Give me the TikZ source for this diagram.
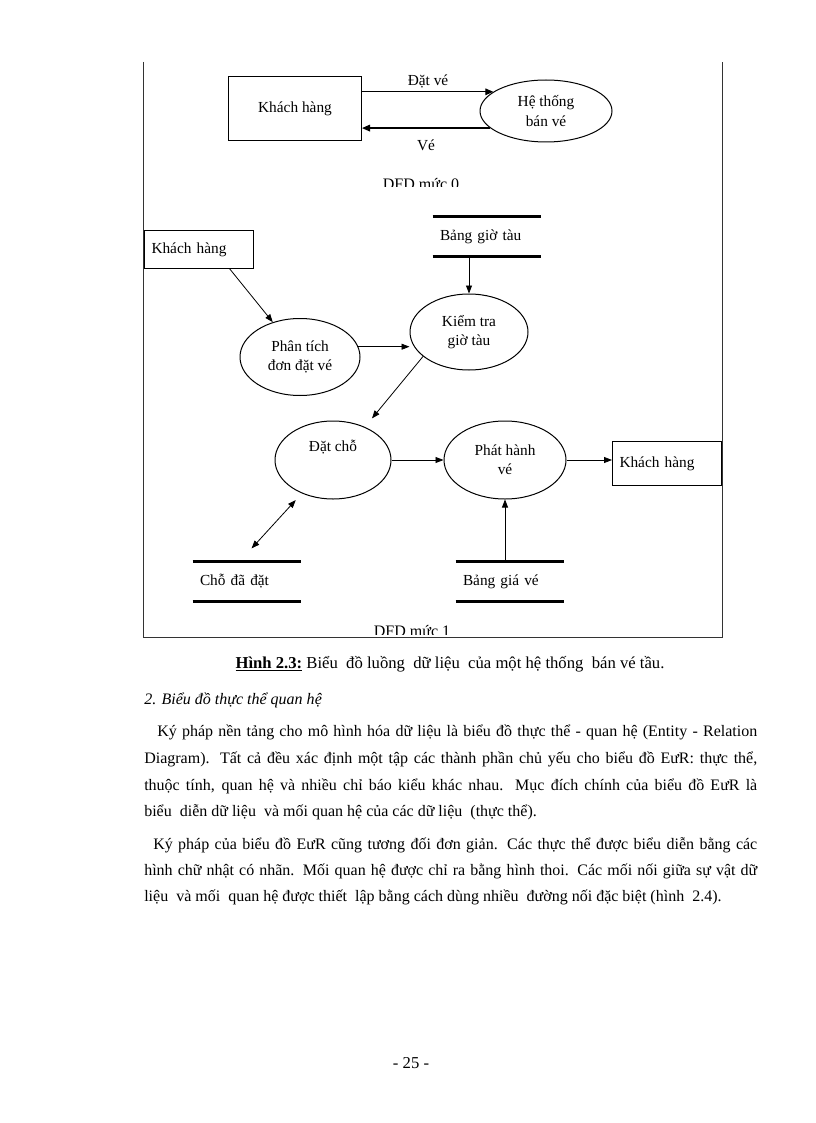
\documentclass[tikz,border=0pt]{standalone}
\usepackage{fontspec}
\setmainfont{Liberation Serif}
\usetikzlibrary{arrows.meta,shapes.geometric,calc}
\newdimen\pxu \pxu=0.75pt
\begin{document}
\begin{tikzpicture}[x=0.75pt,y=-0.75pt,
  dfont/.style={font=\fontsize{11.5}{14.5}\selectfont},
  ent/.style={draw, line width=0.75pt, inner ysep=0pt, dfont},
  proc/.style={draw, ellipse, inner sep=0pt, line width=0.75pt, align=center, dfont},
  lbl/.style={inner sep=0pt, align=center, dfont},
  store/.style={inner ysep=0pt, inner xsep=7\pxu, align=left, dfont},
  storeline/.style={line width=2.6pt},
  flow/.style={-{Triangle[length=6pt,width=4.5pt]}, line width=0.6pt},
  flowz/.style={-{Triangle[length=6pt,width=5pt]}, line width=0.9pt},
  bflow/.style={{Triangle[length=6pt,width=4.5pt]}-{Triangle[length=6pt,width=4.5pt]}, line width=0.6pt},
  body/.style={font=\fontsize{12}{15}\selectfont, anchor=base west, inner sep=0pt},
]
\useasboundingbox (0,0) rectangle (816,1123);
\fill[white] (0,0) rectangle (816,1123);

% frame
\coordinate (ftl) at (143,62);
\coordinate (ftr) at (722,62);
\coordinate (fbl) at (143,637);
\coordinate (fbr) at (722,637);
\draw[line width=0.75pt, black!80] (ftl) -- (fbl) -- (fbr) -- (ftr);

% ---------- DFD level 0 ----------
\node[ent, minimum width=133\pxu, minimum height=64\pxu] (kh0) at (295,109) {Khách hàng};
\node[proc, minimum width=132\pxu, minimum height=62\pxu] (ht) at (546,111) {Hệ thống\\bán vé};
\draw[flowz] (kh0.east |- ht.160) -- (ht.160);
\draw[flowz] (ht.197) -- (kh0.east |- ht.197);
\node[lbl] (ldv) at (428,81) {Đặt vé};
\node[lbl] (lve) at (426,145) {Vé};
\begin{scope}
  \clip (300,150) rectangle (560,187);
  \node[anchor=base, inner sep=0pt, font=\fontsize{12}{14}\selectfont] (dfd0) at (421,189.5) {DFD mức 0};
\end{scope}

% ---------- DFD level 1 ----------
\node[ent, anchor=north west, minimum width=109\pxu, minimum height=38\pxu,
      text width=95\pxu, inner xsep=7\pxu, align=left] (kh1) at (144,230) {Khách hàng};
\node[store, minimum width=108\pxu, minimum height=39\pxu, text width=94\pxu] (bgt) at (487,236.5) {Bảng giờ tàu};
\draw[storeline] (bgt.north west) -- (bgt.north east);
\draw[storeline] (bgt.south west) -- (bgt.south east);

\node[proc, minimum width=120\pxu, minimum height=77\pxu] (pt) at (300,357) {Phân tích\\đơn đặt vé};
\node[proc, minimum width=118\pxu, minimum height=76\pxu] (kt) at (469,332) {Kiểm tra\\giờ tàu};
\node[proc, minimum width=116\pxu, minimum height=78\pxu] (dc) at (333,460) {};
\node[lbl] (dct) at (333,447) {Đặt chỗ};
\node[proc, minimum width=122\pxu, minimum height=78\pxu] (ph) at (505,460) {Phát hành\\vé};
\node[ent, anchor=north west, minimum width=109\pxu, minimum height=44\pxu,
      text width=95\pxu, inner xsep=7\pxu, align=left] (kh2) at (612,441) {Khách hàng};

\node[store, minimum width=108\pxu, minimum height=39\pxu, text width=94\pxu] (cdd) at (247,581.5) {Chỗ đã đặt};
\draw[storeline] (cdd.north west) -- (cdd.north east);
\draw[storeline] (cdd.south west) -- (cdd.south east);
\node[store, minimum width=108\pxu, minimum height=39\pxu, text width=94\pxu] (bgv) at (510,581.5) {Bảng giá vé};
\draw[storeline] (bgv.north west) -- (bgv.north east);
\draw[storeline] (bgv.south west) -- (bgv.south east);

\draw[flow] ($(kh1.south west)!0.78!(kh1.south east)$) -- (pt.128);
\draw[flow] (pt.10) -- (pt.10 -| kt.west);
\draw[flow] (bgt.south -| kt.north) -- (kt.north);
\draw[flow, shorten >=11\pxu] (kt.208) -- (dc.46);
\draw[flow] (dc.east) -- (ph.west);
\draw[flow] (ph.east) -- (ph.east -| kh2.west);
\draw[bflow, shorten <=18\pxu, shorten >=9\pxu] ($(cdd.north west)!0.43!(cdd.north east)$) -- (dc.227);
\draw[flow] (bgv.north -| ph.south) -- (ph.south);

\begin{scope}
  \clip (300,600) rectangle (560,634.5);
  \node[anchor=base, inner sep=0pt, font=\fontsize{12}{14}\selectfont] (dfd1) at (412,636.5) {DFD mức 1};
\end{scope}

% ---------- caption and text ----------
\node[anchor=base, inner sep=0pt, font=\fontsize{12.5}{15}\selectfont] (cap) at (450,668)
  {\underline{\textbf{Hình 2.3:}} Biểu\ \ đồ luồng\ \ dữ liệu\ \ của một hệ thống\ \ bán vé tầu.};
\node[body, font=\fontsize{12}{15}\selectfont\itshape] (h2) at (144,704) {2. Biểu đồ thực thể quan hệ};

\node[body] (p1a) at (157,736) {\makebox[600\pxu][s]{Ký pháp nền tảng cho mô hình hóa dữ liệu là biểu đồ thực thể - quan hệ (Entity - Relation}};
\node[body] (p1b) at (144,763) {\makebox[613\pxu][s]{Diagram). Tất cả đều xác định một tập các thành phần chủ yếu cho biểu đồ EưR: thực thể,}};
\node[body] (p1c) at (144,790) {\makebox[613\pxu][s]{thuộc tính, quan hệ và nhiều chỉ báo kiểu khác nhau. Mục đích chính của biểu đồ EưR là}};
\node[body] (p1d) at (144,816) {biểu\ \ diễn dữ liệu\ \ và mối quan hệ của các dữ liệu\ \ (thực thể).};

\node[body] (p2a) at (153,849) {\makebox[604\pxu][s]{Ký pháp của biểu đồ EưR cũng tương đối đơn giản. Các thực thể được biểu diễn bằng các}};
\node[body] (p2b) at (144,875) {\makebox[613\pxu][s]{hình chữ nhật có nhãn. Mối quan hệ được chỉ ra bằng hình thoi. Các mối nối giữa sự vật dữ}};
\node[body] (p2c) at (144,901) {liệu\ \ và mối\ \ quan hệ được thiết\ \ lập bằng cách dùng nhiều\ \ đường nối đặc biệt (hình\ \ 2.4).};

\node[anchor=base, inner sep=0pt, font=\fontsize{12.5}{15}\selectfont] (pg) at (411,1068) {- 25 -};
\end{tikzpicture}
\end{document}
